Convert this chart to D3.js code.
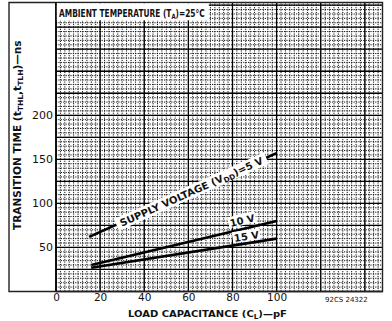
<!DOCTYPE html>
<html><head><meta charset="utf-8">
<script src="https://cdn.jsdelivr.net/npm/d3@7"></script>
<style>
html,body{margin:0;padding:0;background:#fff;}
svg{display:block;}
text{font-family:"DejaVu Sans","Liberation Sans",sans-serif;fill:#111;}
</style></head>
<body>
<div id="chart"></div>
<script>
// ---- data ----
const xTicks = [0, 20, 40, 60, 80, 100];
const yTicks = [50, 100, 150, 200];
const series5V  = [[15, 62], [100, 157]];
const series10V = [[16, 30], [100, 80]];
const series15V = [[16, 27], [100, 60]];
const seriesNames = ["5 V", "10 V", "15 V"];

const W = 392, H = 321;
const svg = d3.select("#chart").append("svg").attr("width", W).attr("height", H);

const x = d3.scaleLinear().domain([0, 148]).range([56, 382.5]);
const y = d3.scaleLinear().domain([0, 328]).range([291.5, 2.5]);

// grid
const g = svg.append("g");
const minorX = d3.range(0, 149, 2), minorY = d3.range(0, 329, 5);
g.selectAll(".mx").data(minorX).join("line")
  .attr("x1", d => x(d)).attr("x2", d => x(d)).attr("y1", y(0)).attr("y2", y(328))
  .attr("stroke", "#111").attr("stroke-width", 1).attr("stroke-dasharray", "1.2,1.2");
g.selectAll(".my").data(minorY).join("line")
  .attr("y1", d => y(d)).attr("y2", d => y(d)).attr("x1", x(0)).attr("x2", x(148))
  .attr("stroke", "#111").attr("stroke-width", 1).attr("stroke-dasharray", "1.2,1.2");
g.selectAll(".MX").data(d3.range(0, 149, 20)).join("line")
  .attr("x1", d => x(d)).attr("x2", d => x(d)).attr("y1", y(0)).attr("y2", y(328))
  .attr("stroke", "#000").attr("stroke-width", 1.3);
g.selectAll(".MY").data(d3.range(0, 329, 25)).join("line")
  .attr("y1", d => y(d)).attr("y2", d => y(d)).attr("x1", x(0)).attr("x2", x(148))
  .attr("stroke", "#000").attr("stroke-width", 1.3);

// frame
svg.append("path")
  .attr("d", `M9,${y(328)} H${x(148)} V${y(0)} H9 Z`)
  .attr("fill", "none").attr("stroke", "#222").attr("stroke-width", 1.4);
svg.append("line").attr("x1", x(0)).attr("x2", x(0)).attr("y1", y(328)).attr("y2", y(0))
  .attr("stroke", "#000").attr("stroke-width", 1.5);

// fit a (possibly multi-tspan) text into a target width via horizontal scaling
function fitted(parent, tx, ty, width, rot, fs, parts) {
  const outer = parent.append("g").attr("transform", `translate(${tx},${ty}) rotate(${rot})`);
  const inner = outer.append("g");
  const t = inner.append("text").attr("x", 0).attr("y", 0).attr("font-size", fs).attr("font-weight", "bold");
  parts.forEach(p => {
    const s = t.append("tspan").text(p[0]);
    if (p[1] === "sub") s.attr("font-size", fs * 0.72).attr("dy", 2);
    if (p[1] === "up") s.attr("dy", -2);
  });
  const w = t.node().getComputedTextLength();
  inner.attr("transform", `scale(${width / w},1)`);
  return outer;
}

// title box
svg.append("rect").attr("x", x(0) + 0.8).attr("y", y(328) + 0.8).attr("width", 152).attr("height", 17).attr("fill", "#fff");
fitted(svg, 59, 16.5, 146, 0, 10, [["AMBIENT TEMPERATURE (T"], ["A", "sub"], [")=25°C", "up"]]);

// lines
const line = d3.line().x(d => x(d[0])).y(d => y(d[1]));
[series5V, series10V, series15V].forEach(s => {
  svg.append("path").attr("d", line(s)).attr("fill", "none")
    .attr("stroke", "#000").attr("stroke-width", 2.6);
});

function angleOf(s) {
  const dx = x(s[1][0]) - x(s[0][0]), dy = y(s[1][1]) - y(s[0][1]);
  return Math.atan2(dy, dx) * 180 / Math.PI;
}
// 5V label
{
  const a = angleOf(series5V);
  const cx = 193, cy = 195;
  const lg = svg.append("g").attr("transform", `translate(${cx},${cy}) rotate(${a})`);
  lg.append("rect").attr("x", -82).attr("y", -10).attr("width", 164).attr("height", 12.5).attr("fill", "#fff");
  fitted(lg, -78, 0, 156, 0, 10, [["SUPPLY VOLTAGE (V"], ["DD", "sub"], [")=" + seriesNames[0], "up"]]);
}
// 10V, 15V labels
[[series10V, seriesNames[1], 243, 224], [series15V, seriesNames[2], 247, 240]].forEach(([s, name, cx, cy]) => {
  const a = angleOf(s);
  const lg = svg.append("g").attr("transform", `translate(${cx},${cy}) rotate(${a})`);
  lg.append("rect").attr("x", -14).attr("y", -10).attr("width", 28).attr("height", 11).attr("fill", "#fff");
  lg.append("text").attr("x", 0).attr("y", 0).attr("text-anchor", "middle").attr("font-size", 10)
    .attr("font-weight", "bold").text(name);
});

// axes (labels only)
const xa = svg.append("g").attr("transform", `translate(0,${y(0)})`)
  .call(d3.axisBottom(x).tickValues(xTicks).tickSize(0).tickPadding(2.5));
xa.select(".domain").remove();
xa.selectAll("text").attr("font-size", 10.5).attr("font-family", "DejaVu Sans").attr("fill", "#111");
const ya = svg.append("g").attr("transform", `translate(${x(0)},0)`)
  .call(d3.axisLeft(y).tickValues(yTicks).tickSize(0).tickPadding(3));
ya.select(".domain").remove();
ya.selectAll("text").attr("font-size", 11).attr("font-family", "DejaVu Sans").attr("fill", "#111");

// axis titles
fitted(svg, 128, 316.5, 159, 0, 9.5, [["LOAD CAPACITANCE (C"], ["L", "sub"], [")—pF", "up"]]);
fitted(svg, 21, 230, 190, -90, 10, [["TRANSITION TIME (t"], ["THL", "sub"], [",t", "up"], ["TLH", "sub"], [")—ns", "up"]]);

svg.append("text").attr("x", 325).attr("y", 302).attr("font-size", 7).text("92CS  24322");
</script>
</body></html>
